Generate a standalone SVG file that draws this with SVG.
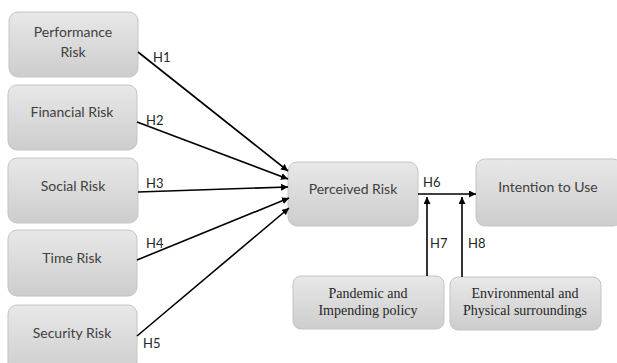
<svg xmlns="http://www.w3.org/2000/svg" width="617" height="363" viewBox="0 0 617 363">
<defs>
<linearGradient id="g" x1="0" y1="0" x2="0" y2="1">
<stop offset="0" stop-color="#e8e8e8"/>
<stop offset="1" stop-color="#cdcdcd"/>
</linearGradient>
<marker id="ah" viewBox="0 0 10 10" refX="10" refY="5" markerWidth="7" markerHeight="7" markerUnits="userSpaceOnUse" orient="auto">
<path d="M0,0 L10,5 L0,10 z" fill="#000"/>
</marker>
<style>
.box{fill:url(#g);stroke:#c4c4c4;stroke-width:1}
.t{font-family:Lato,"Open Sans","Liberation Sans",sans-serif;font-size:14px;fill:#404040;text-anchor:middle;dominant-baseline:central}
.s{font-family:"Liberation Serif","Times New Roman",serif;font-size:14px;fill:#262626;text-anchor:middle;dominant-baseline:central}
.h{font-family:Lato,"Open Sans","Liberation Sans",sans-serif;font-size:13px;fill:#262626;dominant-baseline:central}
.c{stroke:#000;stroke-width:1.6;fill:none;marker-end:url(#ah)}
</style>
</defs>
<rect width="617" height="363" fill="#fff"/>
<g id="performance"><rect class="box" x="9" y="12" width="129" height="65" rx="9"/><text class="t" x="73" y="31">Performance</text><text class="t" x="73" y="51">Risk</text></g>
<g id="financial"><rect class="box" x="8" y="85" width="129" height="65" rx="9"/><text class="t" x="72" y="111">Financial Risk</text></g>
<g id="social"><rect class="box" x="8" y="158" width="130" height="65" rx="9"/><text class="t" x="73" y="185">Social Risk</text></g>
<g id="time"><rect class="box" x="8" y="230" width="129" height="66" rx="9"/><text class="t" x="72" y="257">Time Risk</text></g>
<g id="security"><rect class="box" x="8" y="305" width="129" height="70" rx="9"/><text class="t" x="72" y="332">Security Risk</text></g>
<g id="perceived"><rect class="box" x="288" y="162" width="130" height="64" rx="9"/><text class="t" x="353" y="188">Perceived Risk</text></g>
<g id="intention"><rect class="box" x="476" y="159" width="146" height="67" rx="9"/><text class="t" x="548" y="186">Intention to Use</text></g>
<g id="pandemic"><rect class="box" x="293" y="276" width="151" height="53" rx="8"/><text class="s" x="368" y="293">Pandemic and</text><text class="s" x="368" y="310">Impending policy</text></g>
<g id="environmental"><rect class="box" x="450" y="277" width="151" height="53" rx="8"/><text class="s" x="525" y="293">Environmental and</text><text class="s" x="525" y="310">Physical surroundings</text></g>
<g id="connectors">
<line class="c" x1="138" y1="52" x2="288" y2="171"/>
<line class="c" x1="137" y1="122" x2="288" y2="179"/>
<line class="c" x1="138" y1="192" x2="288" y2="187"/>
<line class="c" x1="137" y1="260" x2="289" y2="198"/>
<line class="c" x1="137" y1="336" x2="289" y2="208"/>
<line class="c" x1="418" y1="194" x2="476" y2="194"/>
<line class="c" x1="427" y1="276" x2="427" y2="197"/>
<line class="c" x1="462" y1="277" x2="462" y2="197"/>
<text class="h" x="153" y="57">H1</text>
<text class="h" x="146" y="120">H2</text>
<text class="h" x="146" y="183">H3</text>
<text class="h" x="146" y="243">H4</text>
<text class="h" x="143" y="343">H5</text>
<text class="h" x="423" y="182">H6</text>
<text class="h" x="430" y="243">H7</text>
<text class="h" x="468" y="243">H8</text>
</g>
</svg>
